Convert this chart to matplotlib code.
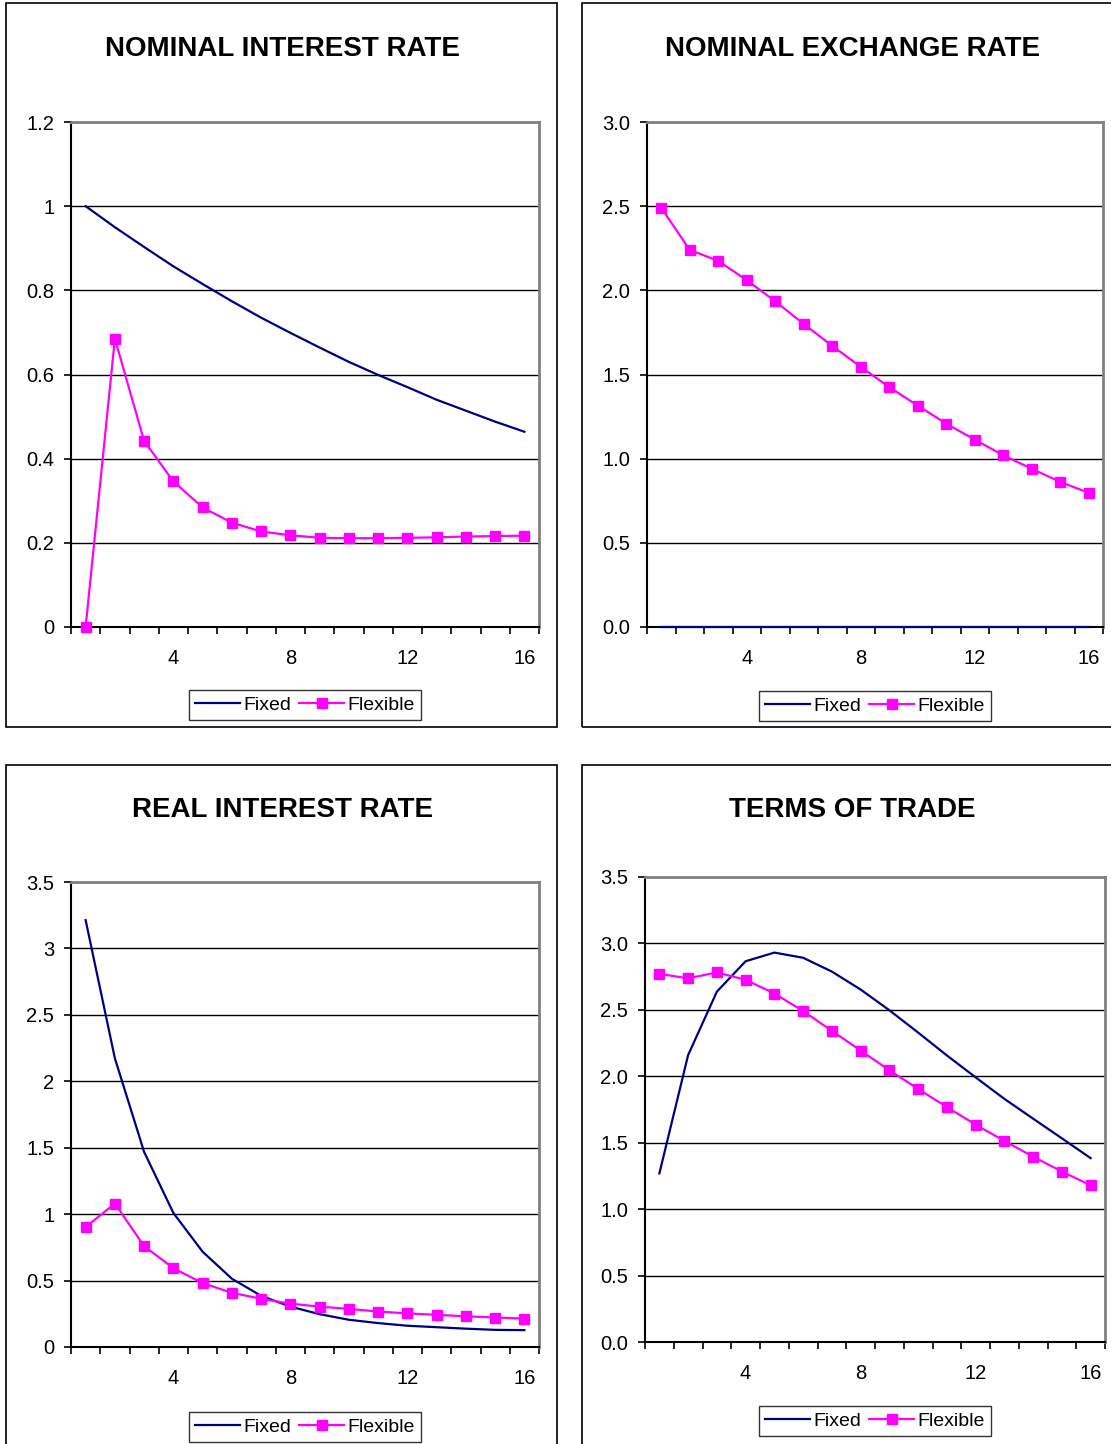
import numpy as np
import matplotlib.pyplot as plt
from matplotlib.patches import Rectangle
from matplotlib.ticker import FixedLocator, FuncFormatter

plt.rcParams["font.family"] = ["Liberation Sans", "DejaVu Sans"]

# ---- data ----
periods = np.arange(1, 17)

nom_int_fixed = [1.000, 0.950, 0.903, 0.857, 0.815, 0.774, 0.735, 0.699,
                 0.664, 0.630, 0.599, 0.570, 0.540, 0.514, 0.488, 0.464]
nom_int_flex = [0.000, 0.685, 0.442, 0.346, 0.284, 0.248, 0.227, 0.218,
                0.212, 0.211, 0.211, 0.212, 0.213, 0.215, 0.216, 0.217]

nom_exch_fixed = [0.0] * 16
nom_exch_flex = [2.49, 2.24, 2.175, 2.06, 1.935, 1.80, 1.67, 1.545,
                 1.425, 1.315, 1.208, 1.113, 1.02, 0.94, 0.862, 0.797]

real_int_fixed = [3.213, 2.173, 1.468, 1.009, 0.717, 0.514, 0.385, 0.304,
                  0.247, 0.205, 0.180, 0.160, 0.149, 0.138, 0.129, 0.127]
real_int_flex = [0.902, 1.080, 0.759, 0.593, 0.481, 0.408, 0.363, 0.326,
                 0.304, 0.287, 0.267, 0.253, 0.242, 0.231, 0.222, 0.214]

tot_fixed = [1.269, 2.160, 2.637, 2.866, 2.931, 2.892, 2.788, 2.653,
             2.497, 2.329, 2.157, 1.992, 1.830, 1.681, 1.533, 1.384]
tot_flex = [2.771, 2.737, 2.782, 2.726, 2.623, 2.491, 2.342, 2.194,
            2.045, 1.905, 1.768, 1.636, 1.513, 1.395, 1.283, 1.180]

titles = ["NOMINAL INTEREST RATE", "NOMINAL EXCHANGE RATE",
          "REAL INTEREST RATE", "TERMS OF TRADE"]
series = [(nom_int_fixed, nom_int_flex), (nom_exch_fixed, nom_exch_flex),
          (real_int_fixed, real_int_flex), (tot_fixed, tot_flex)]
y_ticks = [np.arange(0, 1.21, 0.2), np.arange(0, 3.01, 0.5),
           np.arange(0, 3.51, 0.5), np.arange(0, 3.51, 0.5)]
y_fmt = ["g", ".1f", "g", ".1f"]

# ---- layout in pixels (fig is 1111 x 1444) ----
W, H = 1111, 1444
# plot area: left, top, right, bottom
plot_px = [(71, 122, 539, 627), (647, 122, 1103, 627),
           (71, 882, 539, 1347), (645, 877, 1105, 1342)]
# outer chart frame: left, top, right, bottom
frame_px = [(6, 3, 557, 727), (582, 3, 1125, 727),
            (6, 765, 557, 1460), (582, 765, 1125, 1460)]
title_xy = [(282, 49), (852, 49), (282, 810), (852, 810)]
legend_xy = [(305, 705), (875, 706), (305, 1427), (875, 1421)]

fig = plt.figure(figsize=(W / 100, H / 100), dpi=100)

for i in range(4):
    l, t, r, b = plot_px[i]
    ax = fig.add_axes([l / W, 1 - b / H, (r - l) / W, (b - t) / H])
    fixed, flex = series[i]

    ax.plot(periods, fixed, color="#000080", lw=1.6, label="Fixed",
            clip_on=False, zorder=3)
    ax.plot(periods, flex, color="#FF00FF", lw=1.6, marker="s", ms=7,
            label="Flexible", clip_on=False, zorder=4)

    ax.set_xlim(0.5, 16.5)
    yt = y_ticks[i]
    ax.set_ylim(0, yt[-1])
    ax.set_yticks(yt)
    f = y_fmt[i]
    ax.yaxis.set_major_formatter(FuncFormatter(lambda v, p, f=f: format(v, f)))

    # category axis: labels at 4, 8, 12, 16, tick marks between categories
    ax.xaxis.set_major_locator(FixedLocator([4, 8, 12, 16]))
    ax.xaxis.set_minor_locator(FixedLocator(np.arange(0.5, 16.6, 1.0)))
    ax.tick_params(axis="x", which="major", length=0, pad=16, labelsize=14.5)
    ax.tick_params(axis="x", which="minor", length=5, width=1.2,
                   direction="out", color="black")
    ax.tick_params(axis="y", length=5, width=1.2, direction="out",
                   pad=7, labelsize=14.5)

    ax.set_axisbelow(True)
    ax.grid(axis="y", color="black", lw=1.0)
    for side in ["left", "bottom"]:
        ax.spines[side].set_color("black")
        ax.spines[side].set_linewidth(1.5)
    for side in ["top", "right"]:
        ax.spines[side].set_color("#808080")
        ax.spines[side].set_linewidth(2)

    # chart frame
    fl, ft, fr, fb = frame_px[i]
    fig.patches.append(Rectangle((fl / W, 1 - fb / H), (fr - fl) / W,
                                 (fb - ft) / H, transform=fig.transFigure,
                                 fill=False, edgecolor="black", lw=1.2))

    tx, ty = title_xy[i]
    fig.text(tx / W, 1 - ty / H, titles[i], ha="center", va="center",
             fontsize=20, fontweight="bold")

    lx, ly = legend_xy[i]
    leg = fig.legend(*ax.get_legend_handles_labels(), loc="center",
                     bbox_to_anchor=(lx / W, 1 - ly / H), ncol=2,
                     fontsize=14, frameon=True, fancybox=False,
                     handlelength=2.3, handletextpad=0.2, columnspacing=0.4,
                     borderpad=0.3, borderaxespad=0)
    leg.get_frame().set_edgecolor("black")
    leg.get_frame().set_linewidth(1.0)

fig.savefig("out.png", dpi=100)
